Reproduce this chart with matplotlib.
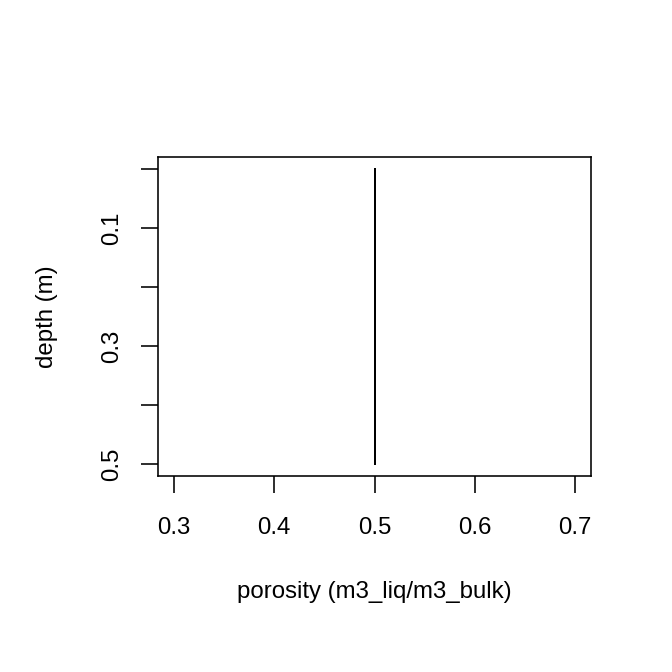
import matplotlib
matplotlib.use("Agg")
import matplotlib.pyplot as plt

depth = [0.0, 0.1, 0.2, 0.3, 0.4, 0.5]
porosity = [0.5, 0.5, 0.5, 0.5, 0.5, 0.5]
x_ticks = [0.3, 0.4, 0.5, 0.6, 0.7]
y_ticks = [0.0, 0.1, 0.2, 0.3, 0.4, 0.5]
y_labels = ["", "0.1", "", "0.3", "", "0.5"]

plt.rcParams["font.family"] = ["Liberation Sans", "DejaVu Sans"]
fig = plt.figure(figsize=(7, 7), dpi=96)
W = 672
ax = fig.add_axes([158 / W, (W - 476) / W, (591 - 158) / W, (476 - 157) / W])
ax.plot(porosity, depth, color="black", linewidth=1.5)
ax.set_xlim(0.284, 0.716)
ax.set_ylim(0.5203, -0.0203)
ax.set_xticks(x_ticks)
ax.set_xticklabels([f"{v:.1f}" for v in x_ticks])
ax.set_yticks(y_ticks)
ax.set_yticklabels(y_labels, rotation=90, va="center")
ax.tick_params(length=12.5, width=1.2, labelsize=18, pad=18)
ax.tick_params(axis="y", pad=14)
for s in ax.spines.values():
    s.set_linewidth(1.2)
ax.set_xlabel("porosity (m3_liq/m3_bulk)", fontsize=18, labelpad=32)
ax.set_ylabel("depth (m)", fontsize=18, labelpad=32)
fig.savefig("out.png", dpi=96)
